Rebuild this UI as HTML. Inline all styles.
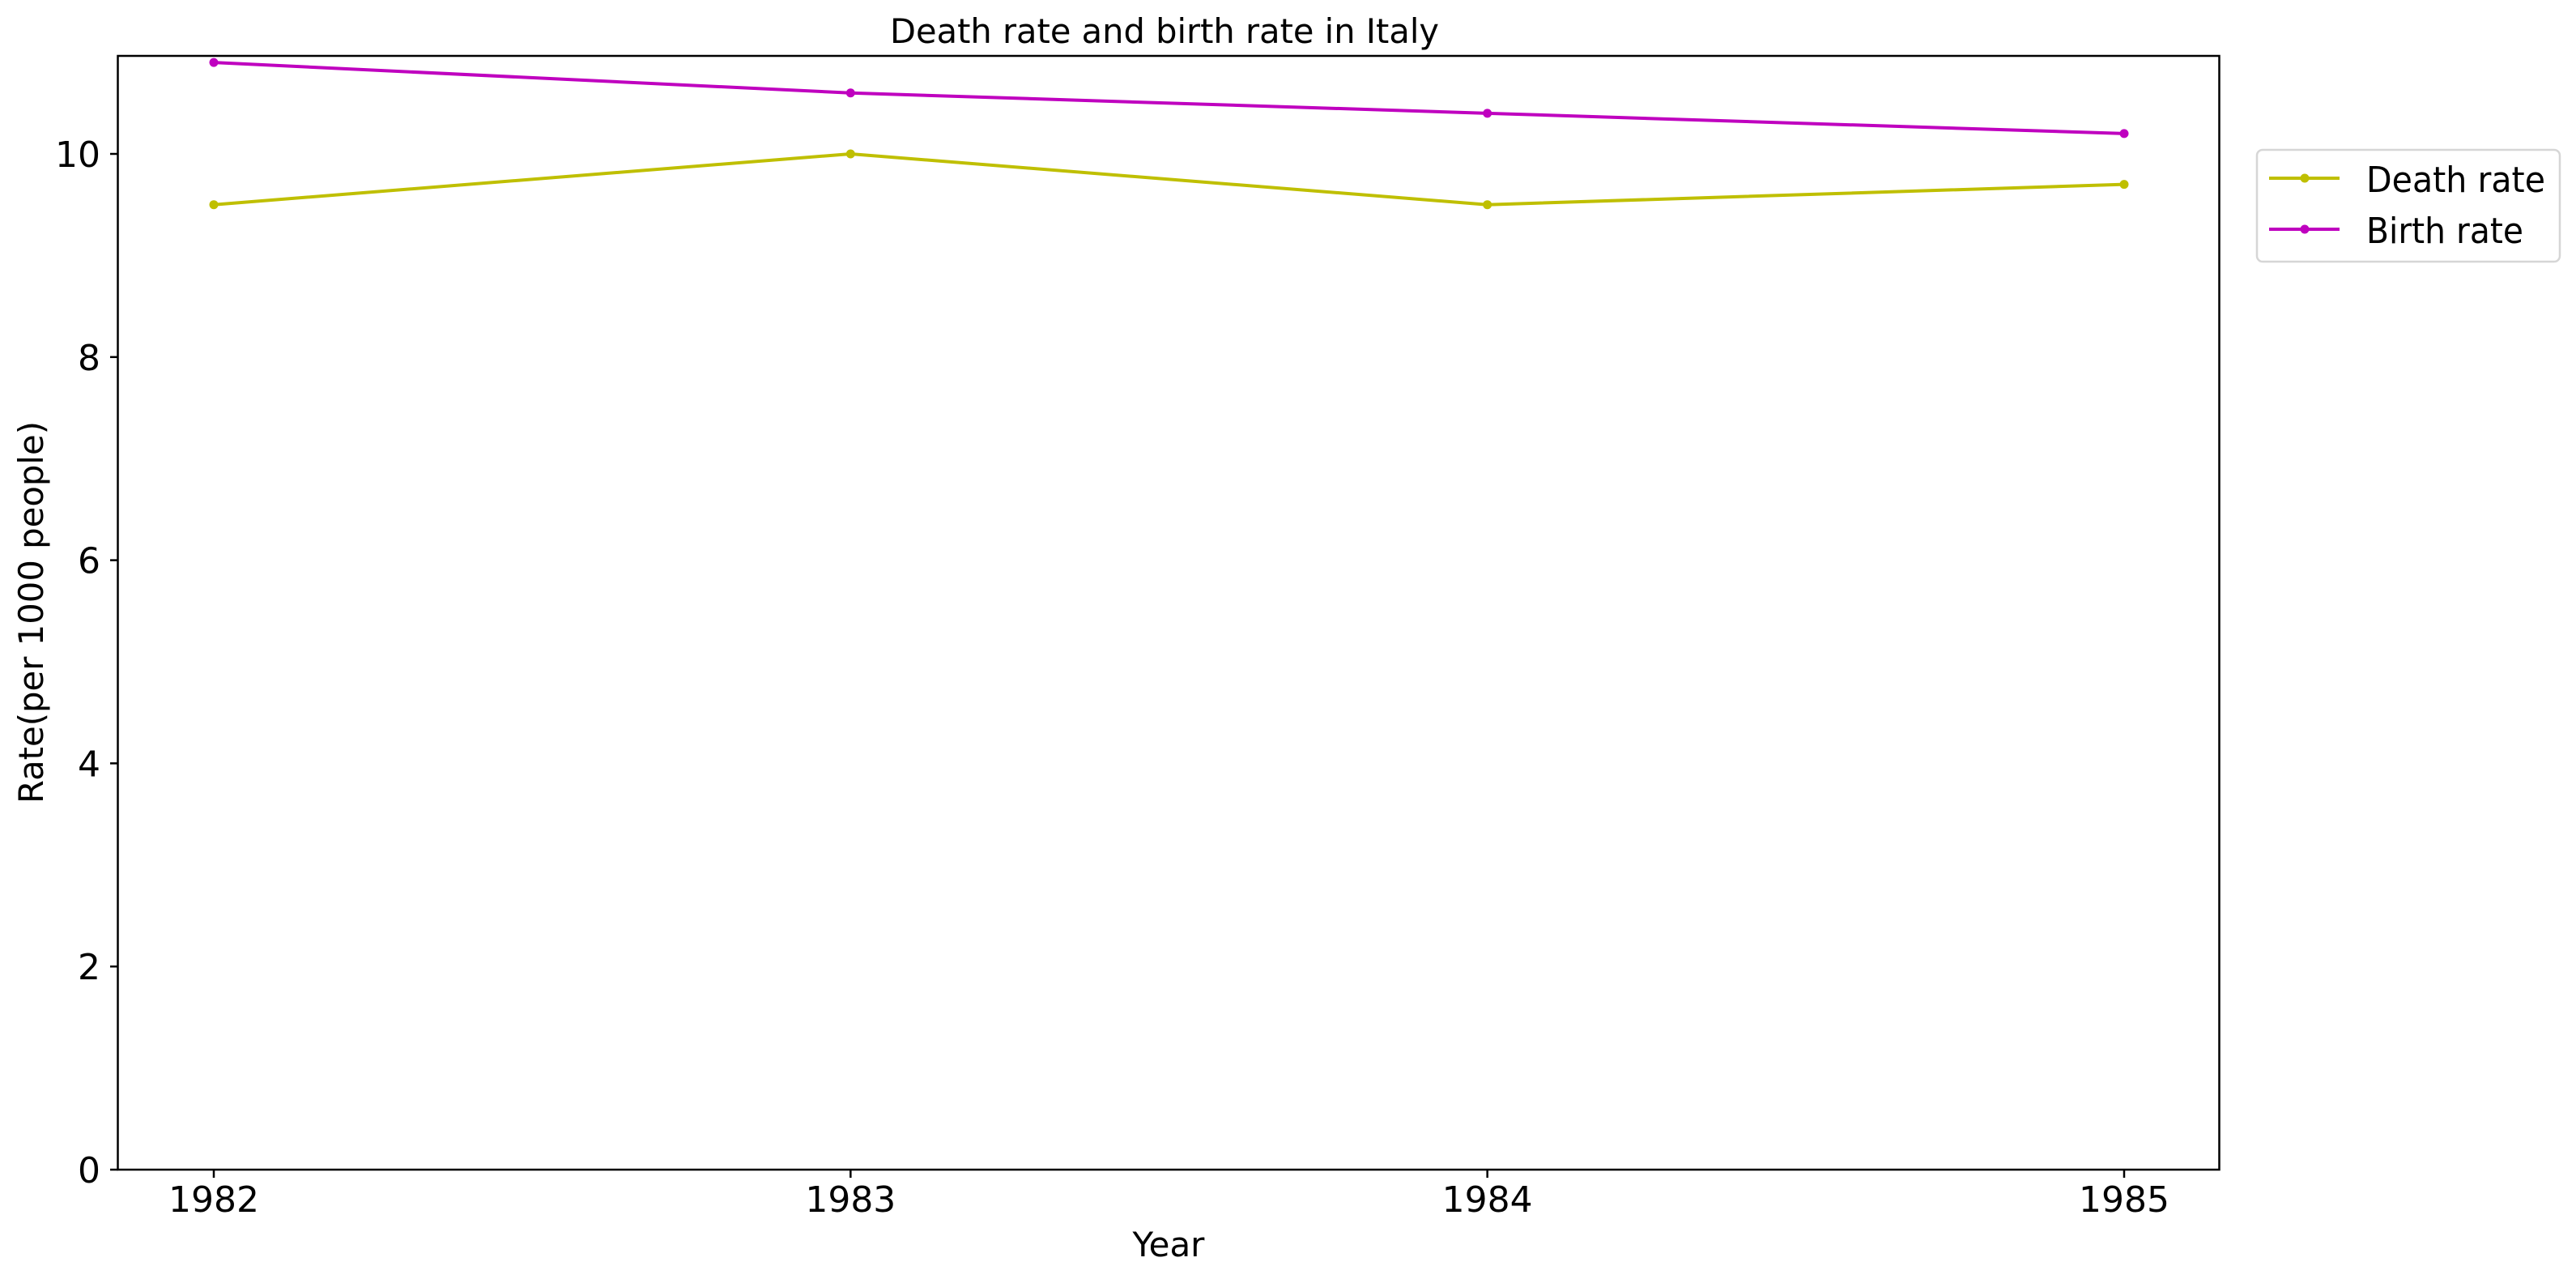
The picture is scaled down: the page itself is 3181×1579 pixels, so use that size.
<!DOCTYPE html>
<html><head><meta charset="utf-8"><style>
html,body{margin:0;padding:0;background:#fff;}
svg{display:block;font-family:"DejaVu Sans","Liberation Sans",sans-serif;}
</style></head><body>
<svg id="chart" width="3181" height="1579" viewBox="0 0 3181 1579" xmlns="http://www.w3.org/2000/svg">
<rect width="3181" height="1579" fill="#fff"/>
<text x="1438" y="53" font-size="41.5" text-anchor="middle" textLength="678" lengthAdjust="spacingAndGlyphs">Death rate and birth rate in Italy</text>
<text x="1443" y="1551" font-size="42" text-anchor="middle">Year</text>
<text transform="translate(53,756) rotate(-90)" font-size="41.5" text-anchor="middle" textLength="472" lengthAdjust="spacingAndGlyphs">Rate(per 1000 people)</text>
<g id="ticks"></g>
<g id="series"></g>
<rect x="145.5" y="69" width="2595" height="1375" fill="none" stroke="#000" stroke-width="2.5"/>
<g>
<rect x="2787" y="185" width="374" height="138" rx="7" fill="#fff" stroke="#d6d6d6" stroke-width="2.5"/>
<g>
<line x1="2802" y1="220" x2="2889" y2="220" stroke="#bfbf00" stroke-width="4"/>
<circle cx="2846" cy="220" r="5.5" fill="#bfbf00"/>
<text x="2922" y="237" font-size="44" textLength="221" lengthAdjust="spacingAndGlyphs">Death rate</text>
</g>
<g>
<line x1="2802" y1="283" x2="2889" y2="283" stroke="#bf00bf" stroke-width="4"/>
<circle cx="2846" cy="283" r="5.5" fill="#bf00bf"/>
<text x="2922" y="300" font-size="44" textLength="194" lengthAdjust="spacingAndGlyphs">Birth rate</text>
</g>
</g>
</svg>
<script>
const years = ["1982","1983","1984","1985"];
const deathRate = [9.5, 10.0, 9.5, 9.7];
const birthRate = [10.9, 10.6, 10.4, 10.2];
const yTicks = [0, 2, 4, 6, 8, 10];
const NS = "http://www.w3.org/2000/svg";
const x0 = 264, x1 = 2623, yBase = 1444, yPerUnit = 125.4;
function xPos(i){ return x0 + i * (x1 - x0) / (years.length - 1); }
function yPos(v){ return yBase - v * yPerUnit; }
function mk(tag, attrs, parent){ const e = document.createElementNS(NS, tag); for (const k in attrs) e.setAttribute(k, attrs[k]); parent.appendChild(e); return e; }
const tg = document.getElementById('ticks');
yTicks.forEach(v => {
  const l = mk('line', {x1:136, x2:145.5, y1:yPos(v), y2:yPos(v), stroke:'#000', 'stroke-width':2.5}, tg);
  
  
  const t = mk('text', {x:124, y:yPos(v)+16, 'font-size':44, 'text-anchor':'end'}, tg);
  t.textContent = v;
  
  
});
years.forEach((yr, i) => {
  const l = mk('line', {x1:xPos(i), x2:xPos(i), y1:1444, y2:1454, stroke:'#000', 'stroke-width':2.5}, tg);
  
  
  const t = mk('text', {x:xPos(i), y:1496, 'font-size':44, 'text-anchor':'middle'}, tg);
  t.textContent = yr;
  
  
});
const sg = document.getElementById('series');
[[deathRate, '#bfbf00', 'death-rate'], [birthRate, '#bf00bf', 'birth-rate']].forEach(([vals, col, name]) => {
  const p = mk('polyline', {points: vals.map((v,i) => xPos(i)+','+yPos(v)).join(' '), fill:'none', stroke:col, 'stroke-width':4}, sg);
  
  
  vals.forEach((v, i) => {
    const c = mk('circle', {cx:xPos(i), cy:yPos(v), r:5.5, fill:col}, sg);
    
    
  });
});
</script>
</body></html>
